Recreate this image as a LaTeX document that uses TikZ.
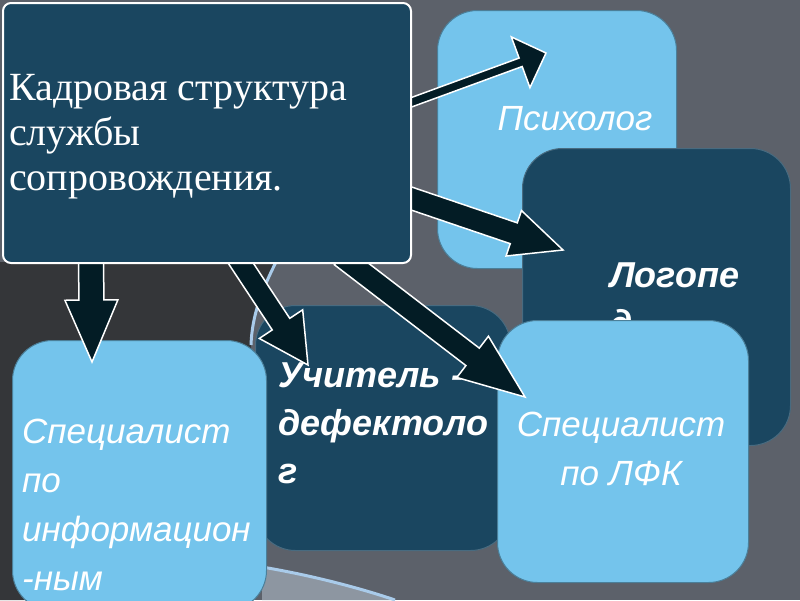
\documentclass[tikz,border=0pt]{standalone}
\usepackage{fontspec}
\setmainfont{Liberation Serif}
\newfontfamily\boxfont{Liberation Sans}
\usetikzlibrary{calc}
\usetikzlibrary{positioning}

\definecolor{slidegray}{HTML}{5C616A}
\definecolor{slidedark}{HTML}{343639}
\definecolor{swooshline}{HTML}{A9CBEA}
\definecolor{swooshfill}{HTML}{8D96A1}
\definecolor{boxlight}{HTML}{74C4EC}
\definecolor{boxdark}{HTML}{1A4660}
\definecolor{arrowfill}{HTML}{031C25}

% block arrow: start, tip, half shaft, half head, head length
\newcommand{\fatarrow}[5]{%
  \coordinate (fa-s) at (#1);
  \coordinate (fa-t) at (#2);
  \coordinate (fa-h) at ($(fa-t)!#5!(fa-s)$);
  \draw[fatarr] ($(fa-s)!#3!90:(fa-t)$) -- ($(fa-h)!#3!-90:(fa-s)$)
    -- ($(fa-h)!#4!-90:(fa-s)$) -- (fa-t) -- ($(fa-h)!#4!90:(fa-s)$)
    -- ($(fa-h)!#3!90:(fa-s)$) -- ($(fa-s)!#3!-90:(fa-t)$) -- cycle;
}

\begin{document}
\begin{tikzpicture}[
  x=1pt, y=-1pt,
  lightbox/.style={draw=boxlight!65!black, fill=boxlight, line width=1pt,
                   rounded corners=40pt, inner sep=0pt, anchor=north west},
  darkbox/.style={draw=boxdark!80!white, fill=boxdark, line width=1pt,
                  rounded corners=40pt, inner sep=0pt, anchor=north west},
  headbox/.style={draw=white, fill=boxdark, line width=2pt,
                  rounded corners=8pt, inner sep=0pt, anchor=north west},
  headtext/.style={text=white, align=left, inner sep=0pt, anchor=base west,
                   font=\fontsize{40}{45}\selectfont},
  lighttext/.style={text=white, inner sep=0pt,
                    font=\boxfont\itshape\fontsize{35}{49}\selectfont},
  darktext/.style={text=white, align=left, inner sep=0pt, anchor=base west,
                   font=\boxfont\bfseries\itshape\fontsize{36}{48}\selectfont},
  fatarr/.style={draw=white, fill=arrowfill, line width=1.5pt,
                 line join=miter}
]

\useasboundingbox (0,0) rectangle (800,600);
\clip (0,0) rectangle (800,600);

%% ---------- slide background ----------
\fill[slidegray] (0,0) rectangle (800,600);
\fill[slidedark] (0,262) -- (276,262) .. controls (262,290) and (252,315)
  .. (251,345) -- (251,600) -- (0,600) -- cycle;
\draw[swooshline, line width=3pt] (276,262) .. controls (262,290)
  and (252,315) .. (251,345);
\fill[swooshfill] (262,567) .. controls (310,575) and (360,588)
  .. (395,600) -- (262,600) -- cycle;
\draw[swooshline, line width=3pt] (262,567) .. controls (310,575)
  and (360,588) .. (395,600);

%% ---------- staff boxes (base anchor = last line) ----------
\node[darkbox, minimum width=255pt, minimum height=245pt] (defect) at (255,305) {};
\node[darktext] (defect-t) at (278,483) {Учитель -\\дефектоло\\г};

\node[lightbox, minimum width=254pt, minimum height=270pt] (info) at (12,340) {};
\node[lighttext, align=left, anchor=base west] (info-t) at (22,590)
  {Специалист\\по\\информацион\\-ным};

\node[lightbox, minimum width=239pt, minimum height=258pt] (psych) at (437,10) {};
\node[lighttext, anchor=base] (psych-t) at (575,130) {Психолог};

\node[darkbox, minimum width=268pt, minimum height=297pt] (logo) at (522,148) {};
\node[darktext] (logo-t) at (610,335) {Логопе\\д};

\node[lightbox, minimum width=251pt, minimum height=262pt] (lfk) at (497,320) {};
\node[lighttext, align=center, anchor=base] (lfk-t) at (621,485)
  {Специалист\\по ЛФК};

%% ---------- arrow tips ----------
\coordinate (psych-tip)  at (546,53);
\coordinate (logo-tip)   at (563,250);
\coordinate (info-tip)   at (92,362);
\coordinate (defect-tip) at (308,365);
\coordinate (lfk-tip)    at (525,397);

%% ---------- arrows (tails hidden under the title box) ----------
\path (2,2) coordinate (main-nw) (410,262) coordinate (main-se);
\fatarrow{$(main-se)+(-6,-157)$}{psych-tip}{4.5pt}{27pt}{27pt}
\fatarrow{$(main-se)+(-6,-66)$}{logo-tip}{11pt}{24pt}{52pt}
\fatarrow{$(main-se)+(-319,-6)$}{info-tip}{12.5pt}{26.5pt}{62pt}
\fatarrow{$(main-se)+(-174,-6)$}{defect-tip}{10.5pt}{26pt}{49pt}
\fatarrow{$(main-se)+(-69,-6)$}{lfk-tip}{11pt}{26pt}{66pt}

%% ---------- title box ----------
\node[headbox, minimum width=408pt, minimum height=260pt] (main) at (main-nw) {};
\node[headtext] (main-t) at (9,190)
  {Кадровая структура\\службы\\сопровождения.};

\end{tikzpicture}
\end{document}
